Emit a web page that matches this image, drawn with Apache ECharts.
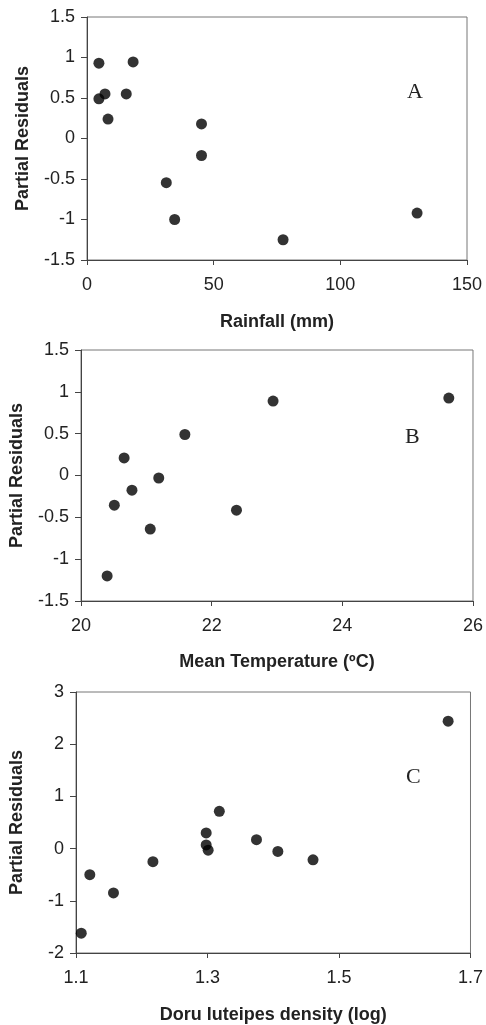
<!DOCTYPE html>
<html>
<head>
<meta charset="utf-8">
<script src="https://cdn.jsdelivr.net/npm/echarts@6/dist/echarts.min.js"></script>
<style>
  html, body { margin: 0; padding: 0; background: #fff; }
  #chart { width: 486px; height: 1025px; }
</style>
</head>
<body>
<div id="chart"></div>
<script>
// panel A - rainfall
var rainX = [4.7, 18.2, 4.7, 7.1, 15.5, 8.3, 45.2, 45.2, 31.3, 34.6, 77.4, 130.3];
var rainY = [0.93, 0.945, 0.49, 0.55, 0.55, 0.24, 0.18, -0.21, -0.545, -1.0, -1.25, -0.92];
// panel B - mean temperature
var tempX = [20.40, 20.51, 20.66, 20.78, 21.06, 21.19, 21.59, 22.38, 22.94, 25.63];
var tempY = [-1.20, -0.355, 0.21, -0.175, -0.64, -0.03, 0.49, -0.415, 0.89, 0.925];
// panel C - Doru luteipes density
var doruX = [1.108, 1.121, 1.157, 1.217, 1.298, 1.298, 1.301, 1.318, 1.3745, 1.407, 1.4605, 1.666];
var doruY = [-1.62, -0.50, -0.85, -0.25, 0.30, 0.07, -0.03, 0.715, 0.17, -0.055, -0.215, 2.44];

var panelLetters = ['A', 'B', 'C'];
var xNames = ['Rainfall (mm)', 'Mean Temperature (\u00baC)', 'Doru luteipes density (log)'];
var yName = 'Partial Residuals';

function pairs(xs, ys) {
	var out = [];
	for (var i = 0; i < xs.length; i++) {
		out.push([xs[i], ys[i]]);
	}
	return out;
}

var font = "'Liberation Sans', Arial, sans-serif";

function makeX(idx, min, max, interval, gap, fmt) {
	return {
		type: 'value', gridIndex: idx, min: min, max: max, interval: interval,
		name: xNames[idx], nameLocation: 'middle', nameGap: gap,
		nameTextStyle: { fontFamily: font, fontWeight: 'bold', fontSize: 18, color: '#222' },
		axisLine: { show: true, onZero: false, lineStyle: { color: '#444', width: 1 } },
		axisTick: { show: true, inside: false, length: 5, lineStyle: { color: '#444' } },
		axisLabel: { fontFamily: font, fontSize: 18, color: '#222', margin: 16, formatter: fmt },
		splitLine: { show: false }
	};
}

function makeY(idx, min, max, interval, gap) {
	return {
		type: 'value', gridIndex: idx, min: min, max: max, interval: interval,
		name: yName, nameLocation: 'middle', nameGap: gap,
		nameTextStyle: { fontFamily: font, fontWeight: 'bold', fontSize: 18, color: '#222' },
		axisLine: { show: true, onZero: false, lineStyle: { color: '#444', width: 1 } },
		axisTick: { show: true, inside: false, length: 6, lineStyle: { color: '#444' } },
		axisLabel: { fontFamily: font, fontSize: 18, color: '#222', margin: 12 },
		splitLine: { show: false }
	};
}

function makeSeries(idx, data) {
	return {
		type: 'scatter', xAxisIndex: idx, yAxisIndex: idx,
		symbol: 'circle', symbolSize: 11,
		itemStyle: { color: '#000' },
		data: data
	};
}

function letter(idx, left, top) {
	return {
		text: panelLetters[idx], left: left, top: top,
		textStyle: { fontFamily: "'Liberation Serif', 'Times New Roman', serif", fontWeight: 'normal', fontSize: 22, color: '#222' }
	};
}

var chart = echarts.init(document.getElementById('chart'));
var option = {
	backgroundColor: '#fff',
	animation: false,
	title: [letter(0, 402, 76), letter(1, 400, 421), letter(2, 401, 761)],
	grid: [
		{ left: 87, top: 17, width: 380, height: 243, show: true, borderColor: '#777', borderWidth: 1 },
		{ left: 79, top: 350, width: 394, height: 251, show: true, borderColor: '#777', borderWidth: 1 },
		{ left: 76, top: 692, width: 396, height: 261, show: true, borderColor: '#777', borderWidth: 1 }
	],
	xAxis: [
		makeX(0, 0, 150, 50, 53),
		makeX(1, 20, 26, 2, 52),
		makeX(2, 1.1, 1.7, 0.2, 53, function (v) { return v.toFixed(1); })
	],
	yAxis: [
		makeY(0, -1.5, 1.5, 0.5, 55),
		makeY(1, -1.5, 1.5, 0.5, 55),
		makeY(2, -2, 3, 1, 50)
	],
	series: [
		makeSeries(0, pairs(rainX, rainY)),
		makeSeries(1, pairs(tempX, tempY)),
		makeSeries(2, pairs(doruX, doruY))
	]
};
chart.setOption(option);
</script>
</body>
</html>
